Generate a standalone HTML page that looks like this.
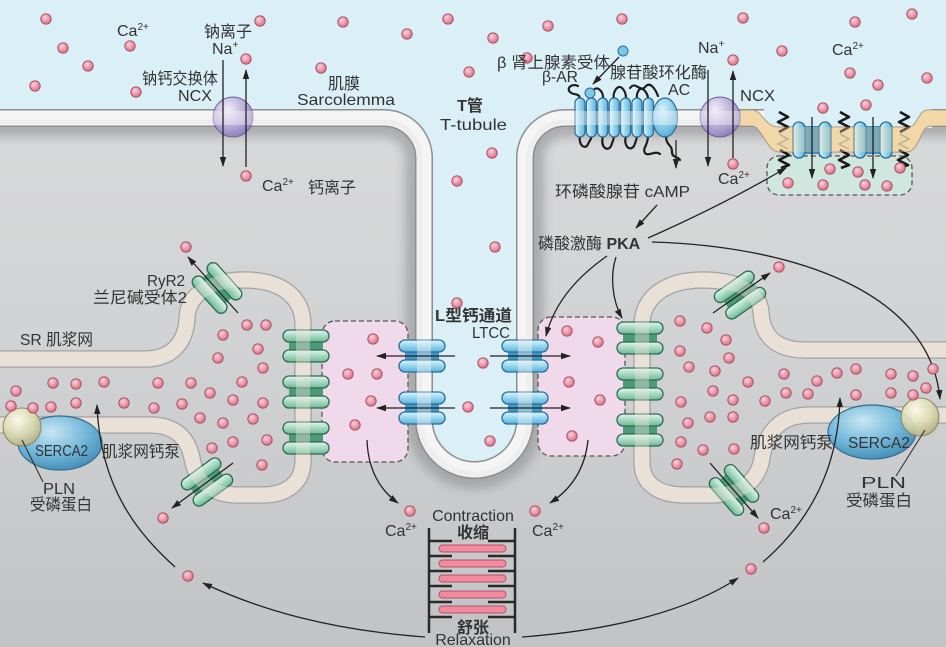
<!DOCTYPE html>
<html><head><meta charset="utf-8">
<style>
html,body{margin:0;padding:0;background:#d3d4d6;}
svg{display:block;}
text{font-family:"Liberation Sans","Noto Sans CJK SC",sans-serif;fill:#333;font-size:16px;}
.b{font-weight:bold;}
</style></head><body>
<svg width="946" height="647" viewBox="0 0 946 647" xmlns="http://www.w3.org/2000/svg">
<defs>
<linearGradient id="cell" x1="0" y1="0" x2="0" y2="1">
<stop offset="0" stop-color="#dcdcdd"/><stop offset="0.5" stop-color="#d2d3d4"/><stop offset="1" stop-color="#c2c3c5"/>
</linearGradient>
<radialGradient id="ca" cx="0.4" cy="0.35" r="0.7">
<stop offset="0" stop-color="#fbd3db"/><stop offset="0.55" stop-color="#ec95a6"/><stop offset="1" stop-color="#d26a80"/>
</radialGradient>
<linearGradient id="bp" x1="0" y1="0" x2="0" y2="1">
<stop offset="0" stop-color="#e0f5fd"/><stop offset="0.5" stop-color="#96d5ef"/><stop offset="1" stop-color="#5cb2db"/>
</linearGradient>
<linearGradient id="bpv" x1="0" y1="0" x2="1" y2="0">
<stop offset="0" stop-color="#e0f5fd"/><stop offset="0.5" stop-color="#96d5ef"/><stop offset="1" stop-color="#5cb2db"/>
</linearGradient>
<linearGradient id="gp" x1="0" y1="0" x2="0" y2="1">
<stop offset="0" stop-color="#e2f5ec"/><stop offset="0.5" stop-color="#a6d9c2"/><stop offset="1" stop-color="#6fb894"/>
</linearGradient>
<radialGradient id="ncx" cx="0.38" cy="0.3" r="0.75">
<stop offset="0" stop-color="#f1eef9"/><stop offset="0.45" stop-color="#c2b9e0"/><stop offset="1" stop-color="#8b7dbb"/>
</radialGradient>
<radialGradient id="serca" cx="0.4" cy="0.3" r="0.8">
<stop offset="0" stop-color="#c6e8f6"/><stop offset="0.5" stop-color="#6fb8dc"/><stop offset="1" stop-color="#2f7fac"/>
</radialGradient>
<radialGradient id="pln" cx="0.4" cy="0.3" r="0.8">
<stop offset="0" stop-color="#fbfbea"/><stop offset="0.5" stop-color="#dedcb4"/><stop offset="1" stop-color="#a9a67a"/>
</radialGradient>
<radialGradient id="ac" cx="0.4" cy="0.3" r="0.8">
<stop offset="0" stop-color="#d8f1fb"/><stop offset="0.5" stop-color="#8fd0ec"/><stop offset="1" stop-color="#4aa2cd"/>
</radialGradient>
<filter id="blur" x="-10%" y="-10%" width="120%" height="120%"><feGaussianBlur stdDeviation="5"/></filter>
<marker id="ah" viewBox="0 0 10 10" refX="9" refY="5" markerUnits="userSpaceOnUse" markerWidth="10" markerHeight="10" orient="auto">
<path d="M0,1.8 L10,5 L0,8.2 Z" fill="#222"/></marker>
<g id="d"><circle r="5.2" fill="url(#ca)" stroke="#a04c62" stroke-width="0.9"/></g>
<g id="bch">
<rect x="-17" y="-7" width="34" height="14" fill="#3f98c6"/>
<rect x="-23" y="-16" width="46" height="12" rx="6" fill="url(#bp)" stroke="#2a6c94" stroke-width="1.3"/>
<rect x="-23" y="4" width="46" height="12" rx="6" fill="url(#bp)" stroke="#2a6c94" stroke-width="1.3"/>
</g>
<g id="gch">
<rect x="-17" y="-7" width="34" height="14" fill="#4d9a7a"/>
<rect x="-23" y="-16" width="46" height="12" rx="6" fill="url(#gp)" stroke="#2c6a50" stroke-width="1.3"/>
<rect x="-23" y="4" width="46" height="12" rx="6" fill="url(#gp)" stroke="#2c6a50" stroke-width="1.3"/>
</g>
<g id="vch">
<rect x="-8" y="-14" width="16" height="28" fill="#3a8fbe"/>
<rect x="-19" y="-18" width="12" height="36" rx="6" fill="url(#bpv)" stroke="#2a6c94" stroke-width="1.3"/>
<rect x="7" y="-18" width="12" height="36" rx="6" fill="url(#bpv)" stroke="#2a6c94" stroke-width="1.3"/>
</g>
</defs>

<!-- cell background -->
<rect x="0" y="0" width="946" height="647" fill="url(#cell)"/>
<!-- membrane shadow -->
<path d="M -10,118 H 384 A 40 40 0 0 1 424 158 V 419.5 A 50.5 50.5 0 0 0 525 419.5 V 158 A 40 40 0 0 1 565 118 H 956" fill="none" stroke="#88898c" stroke-width="38" opacity="0.55" filter="url(#blur)"/>
<!-- extracellular -->
<path d="M -10,118 H 384 A 40 40 0 0 1 424 158 V 419.5 A 50.5 50.5 0 0 0 525 419.5 V 158 A 40 40 0 0 1 565 118 H 956 V -10 H -10 Z" fill="#dbeff7"/>
<!-- sarcolemma -->
<path d="M -10,118 H 384 A 40 40 0 0 1 424 158 V 419.5 A 50.5 50.5 0 0 0 525 419.5 V 158 A 40 40 0 0 1 565 118 H 956" fill="none" stroke="#8d8e90" stroke-width="18"/>
<path d="M -10,118 H 384 A 40 40 0 0 1 424 158 V 419.5 A 50.5 50.5 0 0 0 525 419.5 V 158 A 40 40 0 0 1 565 118 H 956" fill="none" stroke="#f4f4f4" stroke-width="15"/>
<path d="M -10,122 H 384 A 36 36 0 0 1 420 158 V 419.5 A 54.5 54.5 0 0 0 529 419.5 V 158 A 36 36 0 0 1 565 122 H 956" fill="none" stroke="#e2e2e3" stroke-width="5" opacity="0.7"/>

<!-- tan caveolar region -->
<rect x="764" y="108" width="168" height="20" fill="#dbeff7"/>
<path id="tan" d="M 740,110 L 752,110 C 762,110 765,127 778,127 L 908,127 C 918,127 918,110 928,110 L 950,110 L 950,126 L 930,126 C 920,126 920,152 906,152 L 780,152 C 766,152 762,126 752,126 L 740,126 Z" fill="#f1d7a7" stroke="#9a8e78" stroke-width="1"/>

<!-- SR left -->
<path d="M -10,425 L 150,425 C 175,425 188,438 192,458 C 196,482 212,495 238,495 L 262,495 C 288,495 303,482 303,460 L 303,325 C 303,296 280,280 245,280 C 212,280 188,293 187,318 C 186,342 172,359 145,359 L -10,359" fill="none" stroke="#a3a3a5" stroke-width="17.5"/>
<path d="M -10,425 L 150,425 C 175,425 188,438 192,458 C 196,482 212,495 238,495 L 262,495 C 288,495 303,482 303,460 L 303,325 C 303,296 280,280 245,280 C 212,280 188,293 187,318 C 186,342 172,359 145,359 L -10,359" fill="none" stroke="#e7ddd5" stroke-width="15"/>
<!-- SR right -->
<path d="M 956,350 L 805,350 C 775,350 762,335 761,312 C 759,290 735,280 702,280 C 668,280 642,296 642,325 L 642,462 C 642,485 660,495 685,495 L 712,495 C 740,495 758,482 762,458 C 766,432 780,415 810,415 L 956,415" fill="none" stroke="#a3a3a5" stroke-width="17.5"/>
<path d="M 956,350 L 805,350 C 775,350 762,335 761,312 C 759,290 735,280 702,280 C 668,280 642,296 642,325 L 642,462 C 642,485 660,495 685,495 L 712,495 C 740,495 758,482 762,458 C 766,432 780,415 810,415 L 956,415" fill="none" stroke="#e7ddd5" stroke-width="15"/>

<!-- pink boxes -->
<rect x="322" y="321" width="86" height="141" rx="13" fill="#efd9ea" stroke="#555" stroke-width="1.3" stroke-dasharray="5,3"/>
<rect x="538" y="317" width="87" height="139" rx="13" fill="#efd9ea" stroke="#555" stroke-width="1.3" stroke-dasharray="5,3"/>
<!-- teal box -->
<rect x="767" y="156" width="145" height="39" rx="12" fill="#cfe7de" stroke="#555" stroke-width="1.3" stroke-dasharray="5,3"/>

<!-- NCX -->
<circle cx="233" cy="117" r="20" fill="url(#ncx)" stroke="#6e609d" stroke-width="1"/>
<circle cx="720" cy="117" r="20" fill="url(#ncx)" stroke="#6e609d" stroke-width="1"/>

<!-- beta-AR -->
<g fill="none" stroke="#1e1e1e" stroke-width="2.2" stroke-linecap="round">
<path d="M 580,100 C 580,92 574,96 570,92 C 566,88 572,83 578,86"/>
<path d="M 591,100 C 590,90 596,86 600,90 C 604,94 603,98 603,100"/>
<path d="M 614,100 C 612,92 618,84 622,88 C 626,92 626,96 626,100"/>
<path d="M 637,100 C 636,92 640,86 644,90 C 648,94 648,97 648,100"/>
<path d="M 580,136 C 578,146 586,150 588,144 C 590,140 592,138 591,136"/>
<path d="M 603,136 C 600,148 608,152 611,146 C 613,141 614,138 614,136"/>
<path d="M 626,136 C 623,146 630,152 634,146 C 636,141 637,138 637,136"/>
<path d="M 648,136 C 648,146 642,148 645,153 C 648,157 655,150 660,154"/>
<path d="M 630,88 C 636,80 640,94 646,86 C 650,82 655,88 658,96"/>
<path d="M 666,136 C 666,146 672,144 672,152 C 672,158 678,156 680,160"/>
</g>
<g stroke="#2a6c94" stroke-width="1.2" fill="url(#bpv)">
<rect x="575" y="98" width="10" height="39" rx="5"/>
<rect x="586.4" y="98" width="10" height="39" rx="5"/>
<rect x="597.8" y="98" width="10" height="39" rx="5"/>
<rect x="609.2" y="98" width="10" height="39" rx="5"/>
<rect x="620.6" y="98" width="10" height="39" rx="5"/>
<rect x="632" y="98" width="10" height="39" rx="5"/>
<rect x="643.4" y="98" width="10" height="39" rx="5"/>
</g>
<ellipse cx="665" cy="117.5" rx="12.5" ry="19.5" fill="url(#ac)" stroke="#2a6c94" stroke-width="1.2"/>
<circle cx="623" cy="51" r="5" fill="#7cc6e6" stroke="#2a6c94" stroke-width="1"/>
<circle cx="590" cy="93" r="5" fill="#7cc6e6" stroke="#2a6c94" stroke-width="1"/>

<!-- caveola zigzags -->
<g fill="none" stroke="#1a1a1a" stroke-width="2.6" stroke-linejoin="round">
<polyline points="779,112 788,117 778,122 788,127 779,132"/>
<polyline points="780,150 789,155 779,160 789,165 781,168"/>
<polyline points="840,112 849,117 839,122 849,127 840,132"/>
<polyline points="840,150 849,155 839,160 849,165 841,168"/>
<polyline points="900,112 909,117 899,122 909,127 900,132"/>
<polyline points="899,150 908,155 898,160 908,165 900,168"/>
</g>
<g fill="none" stroke="#8a8a8a" stroke-width="1.5" opacity="0.8">
<polyline points="779,134 788,139 778,144 788,149"/>
<polyline points="840,134 849,139 839,144 849,149"/>
<polyline points="900,134 909,139 899,144 909,149"/>
</g>
<use href="#vch" transform="translate(812,140)"/>
<use href="#vch" transform="translate(873,140)"/>

<!-- LTCC -->
<use href="#bch" transform="translate(422,356)"/>
<use href="#bch" transform="translate(422,408)"/>
<use href="#bch" transform="translate(525,356)"/>
<use href="#bch" transform="translate(525,408)"/>
<!-- junction RyR -->
<use href="#gch" transform="translate(306,346)"/>
<use href="#gch" transform="translate(306,392)"/>
<use href="#gch" transform="translate(306,438)"/>
<use href="#gch" transform="translate(640,338)"/>
<use href="#gch" transform="translate(640,384)"/>
<use href="#gch" transform="translate(640,430)"/>
<!-- tilted RyR -->
<use href="#gch" transform="translate(217,288) rotate(48)"/>
<use href="#gch" transform="translate(740,295) rotate(-35)"/>
<use href="#gch" transform="translate(207,482) rotate(-36)"/>
<use href="#gch" transform="translate(734,490) rotate(49)"/>

<!-- semi-transparent membrane overlays over channels -->
<path d="M -10,118 H 384 A 40 40 0 0 1 424 158 V 419.5 A 50.5 50.5 0 0 0 525 419.5 V 158 A 40 40 0 0 1 565 118 H 740" fill="none" stroke="#f6f6f6" stroke-width="14" opacity="0.42"/>
<path d="M 740,110 L 752,110 C 762,110 765,127 778,127 L 908,127 C 918,127 918,110 928,110 L 950,110 L 950,126 L 930,126 C 920,126 920,152 906,152 L 780,152 C 766,152 762,126 752,126 L 740,126 Z" fill="#f3dbad" opacity="0.35"/>
<path d="M -10,425 L 150,425 C 175,425 188,438 192,458 C 196,482 212,495 238,495 L 262,495 C 288,495 303,482 303,460 L 303,325 C 303,296 280,280 245,280 C 212,280 188,293 187,318 C 186,342 172,359 145,359 L -10,359" fill="none" stroke="#ece4dd" stroke-width="14" opacity="0.42"/>
<path d="M 956,350 L 805,350 C 775,350 762,335 761,312 C 759,290 735,280 702,280 C 668,280 642,296 642,325 L 642,462 C 642,485 660,495 685,495 L 712,495 C 740,495 758,482 762,458 C 766,432 780,415 810,415 L 956,415" fill="none" stroke="#ece4dd" stroke-width="14" opacity="0.42"/>

<!-- SERCA -->
<ellipse cx="60" cy="443" rx="42" ry="27" fill="url(#serca)" stroke="#27668c" stroke-width="1.2" opacity="0.93"/>
<circle cx="22" cy="427" r="19" fill="url(#pln)" stroke="#8a8760" stroke-width="1.1" opacity="0.93"/>
<ellipse cx="872" cy="432" rx="44" ry="27" fill="url(#serca)" stroke="#27668c" stroke-width="1.2" opacity="0.93"/>
<circle cx="920" cy="417" r="19" fill="url(#pln)" stroke="#8a8760" stroke-width="1.1" opacity="0.93"/>

<!-- sarcomere -->
<g stroke="#2a2a2a" stroke-width="2.5" fill="none">
<line x1="429" y1="528" x2="429" y2="633"/>
<line x1="515" y1="528" x2="515" y2="633"/>
<path d="M429,541 H452 M429,556 H452 M429,571 H452 M429,586 H452 M429,602 H452 M429,617 H452 M488,541 H515 M488,556 H515 M488,571 H515 M488,586 H515 M488,602 H515 M488,617 H515"/>
</g>
<g fill="#f08a9d" stroke="#b8506a" stroke-width="1">
<rect x="439" y="545" width="67" height="7" rx="3.5"/>
<rect x="439" y="560" width="67" height="7" rx="3.5"/>
<rect x="439" y="575" width="67" height="7" rx="3.5"/>
<rect x="439" y="591" width="67" height="7" rx="3.5"/>
<rect x="439" y="606" width="67" height="7" rx="3.5"/>
</g>

<!-- arrows -->
<g fill="none" stroke="#222" stroke-width="1.3" marker-end="url(#ah)">
<line x1="223" y1="60" x2="223" y2="166"/>
<line x1="246" y1="167" x2="246" y2="70"/>
<line x1="708" y1="70" x2="708" y2="166"/>
<line x1="733" y1="158" x2="733" y2="71"/>
<line x1="812" y1="117" x2="812" y2="178"/>
<line x1="873" y1="117" x2="873" y2="178"/>
<line x1="619" y1="57" x2="593" y2="84"/>
<line x1="676" y1="140" x2="676" y2="168"/>
<line x1="657" y1="205" x2="636" y2="228"/>
<path d="M 648,238 C 700,215 745,192 786,168"/>
<path d="M 652,242 C 790,246 930,290 940,399"/>
<path d="M 607,256 C 580,275 555,300 546,336"/>
<path d="M 616,257 C 610,275 612,300 622,318"/>
<line x1="455" y1="356" x2="377" y2="356"/>
<line x1="455" y1="408" x2="377" y2="408"/>
<line x1="490" y1="356" x2="570" y2="356"/>
<line x1="490" y1="408" x2="570" y2="408"/>
<line x1="238" y1="313" x2="188" y2="257"/>
<line x1="713" y1="313" x2="770" y2="273"/>
<line x1="233" y1="463" x2="172" y2="508"/>
<line x1="710" y1="463" x2="758" y2="518"/>
<path d="M 367,440 C 368,470 380,490 398,503"/>
<path d="M 588,440 C 585,470 570,490 550,503"/>
<path d="M 425,637 C 330,630 260,610 203,583"/>
<path d="M 175,567 C 140,535 100,490 97,405"/>
<path d="M 522,637 C 615,630 690,610 738,578"/>
<path d="M 763,562 C 800,530 838,480 840,398"/>
</g>
<g stroke="#333" stroke-width="1.1">
<line x1="22" y1="440" x2="43" y2="482"/>
<line x1="925" y1="430" x2="896" y2="476"/>
</g>

<!-- Ca dots -->
<g>
<use href="#d" x="46" y="19"/><use href="#d" x="260" y="21"/><use href="#d" x="343" y="22"/><use href="#d" x="448" y="19"/>
<use href="#d" x="63" y="48"/><use href="#d" x="130" y="46"/><use href="#d" x="407" y="34"/><use href="#d" x="88" y="66"/>
<use href="#d" x="246" y="59"/><use href="#d" x="321" y="68"/><use href="#d" x="35" y="86"/><use href="#d" x="136" y="92"/>
<use href="#d" x="469" y="72"/><use href="#d" x="548" y="26"/><use href="#d" x="622" y="19"/><use href="#d" x="743" y="18"/>
<use href="#d" x="855" y="22"/><use href="#d" x="912" y="14"/><use href="#d" x="493" y="38"/><use href="#d" x="527" y="58"/>
<use href="#d" x="733" y="60"/><use href="#d" x="782" y="51"/><use href="#d" x="850" y="73"/><use href="#d" x="878" y="85"/>
<use href="#d" x="927" y="78"/><use href="#d" x="823" y="108"/><use href="#d" x="866" y="105"/>
<use href="#d" x="457" y="181"/><use href="#d" x="492" y="153"/><use href="#d" x="495" y="247"/><use href="#d" x="457" y="303"/>
<use href="#d" x="483" y="363"/><use href="#d" x="468" y="407"/><use href="#d" x="490" y="441"/>
<use href="#d" x="246" y="176"/><use href="#d" x="733" y="164"/>
<use href="#d" x="830" y="169"/><use href="#d" x="858" y="172"/><use href="#d" x="900" y="168"/><use href="#d" x="788" y="183"/>
<use href="#d" x="823" y="185"/><use href="#d" x="865" y="185"/><use href="#d" x="887" y="186"/>
<use href="#d" x="247" y="325"/><use href="#d" x="266" y="325"/><use href="#d" x="223" y="335"/><use href="#d" x="258" y="349"/>
<use href="#d" x="218" y="358"/><use href="#d" x="263" y="368"/><use href="#d" x="16" y="391"/><use href="#d" x="53" y="383"/>
<use href="#d" x="76" y="384"/><use href="#d" x="104" y="382"/><use href="#d" x="158" y="383"/><use href="#d" x="191" y="383"/>
<use href="#d" x="242" y="382"/><use href="#d" x="210" y="393"/><use href="#d" x="233" y="400"/><use href="#d" x="263" y="403"/>
<use href="#d" x="11" y="406"/><use href="#d" x="33" y="408"/><use href="#d" x="51" y="407"/><use href="#d" x="76" y="403"/>
<use href="#d" x="124" y="403"/><use href="#d" x="154" y="408"/><use href="#d" x="182" y="404"/><use href="#d" x="200" y="418"/>
<use href="#d" x="223" y="423"/><use href="#d" x="253" y="419"/><use href="#d" x="233" y="442"/><use href="#d" x="267" y="440"/>
<use href="#d" x="212" y="448"/><use href="#d" x="262" y="465"/>
<use href="#d" x="186" y="247"/><use href="#d" x="163" y="518"/><use href="#d" x="410" y="511"/><use href="#d" x="188" y="576"/>
<use href="#d" x="373" y="339"/><use href="#d" x="348" y="374"/><use href="#d" x="377" y="374"/><use href="#d" x="371" y="401"/><use href="#d" x="355" y="425"/>
<use href="#d" x="567" y="331"/><use href="#d" x="598" y="342"/><use href="#d" x="569" y="382"/><use href="#d" x="600" y="400"/><use href="#d" x="572" y="436"/>
<use href="#d" x="680" y="321"/><use href="#d" x="707" y="328"/><use href="#d" x="726" y="340"/><use href="#d" x="680" y="351"/>
<use href="#d" x="729" y="358"/><use href="#d" x="689" y="367"/><use href="#d" x="715" y="371"/><use href="#d" x="748" y="382"/>
<use href="#d" x="784" y="374"/><use href="#d" x="817" y="381"/><use href="#d" x="837" y="373"/><use href="#d" x="856" y="369"/>
<use href="#d" x="891" y="374"/><use href="#d" x="913" y="376"/><use href="#d" x="933" y="369"/><use href="#d" x="713" y="391"/>
<use href="#d" x="733" y="400"/><use href="#d" x="681" y="402"/><use href="#d" x="765" y="401"/><use href="#d" x="786" y="393"/>
<use href="#d" x="808" y="394"/><use href="#d" x="856" y="395"/><use href="#d" x="891" y="393"/><use href="#d" x="913" y="395"/>
<use href="#d" x="926" y="388"/><use href="#d" x="710" y="417"/><use href="#d" x="733" y="417"/><use href="#d" x="688" y="423"/>
<use href="#d" x="681" y="442"/><use href="#d" x="703" y="450"/><use href="#d" x="734" y="449"/><use href="#d" x="677" y="464"/>
<use href="#d" x="779" y="267"/><use href="#d" x="764" y="528"/><use href="#d" x="535" y="511"/><use href="#d" x="751" y="569"/>
</g>

<!-- labels -->
<text x="117" y="36">Ca<tspan dy="-6" font-size="10">2+</tspan></text>
<text x="204" y="37">钠离子</text>
<text x="212" y="54">Na<tspan dy="-6" font-size="10">+</tspan></text>
<text x="142" y="84" textLength="76" lengthAdjust="spacingAndGlyphs">钠钙交换体</text>
<text x="178" y="101" textLength="34" lengthAdjust="spacingAndGlyphs">NCX</text>
<text x="328" y="89">肌膜</text>
<text x="297" y="105" textLength="98" lengthAdjust="spacingAndGlyphs">Sarcolemma</text>
<text x="470" y="111" text-anchor="middle" class="b">T管</text>
<text x="440" y="130" textLength="67" lengthAdjust="spacingAndGlyphs">T-tubule</text>
<text x="262" y="191">Ca<tspan dy="-6" font-size="10">2+</tspan></text>
<text x="308" y="193">钙离子</text>

<text x="497" y="68" textLength="113" lengthAdjust="spacingAndGlyphs">β 肾上腺素受体</text>
<text x="542" y="82" textLength="36" lengthAdjust="spacingAndGlyphs">β-AR</text>
<text x="610" y="78" textLength="97" lengthAdjust="spacingAndGlyphs">腺苷酸环化酶</text>
<text x="668" y="95">AC</text>
<text x="698" y="53">Na<tspan dy="-6" font-size="10">+</tspan></text>
<text x="740" y="101" textLength="35" lengthAdjust="spacingAndGlyphs">NCX</text>
<text x="718" y="184">Ca<tspan dy="-6" font-size="10">2+</tspan></text>
<text x="832" y="55">Ca<tspan dy="-6" font-size="10">2+</tspan></text>
<text x="555" y="197" textLength="135" lengthAdjust="spacingAndGlyphs">环磷酸腺苷 cAMP</text>
<text x="538" y="249">磷酸激酶 <tspan class="b">PKA</tspan></text>

<text x="147" y="286" textLength="38" lengthAdjust="spacingAndGlyphs">RyR2</text>
<text x="93" y="303" textLength="94" lengthAdjust="spacingAndGlyphs">兰尼碱受体2</text>
<text x="20" y="345" textLength="73" lengthAdjust="spacingAndGlyphs">SR 肌浆网</text>
<text x="435" y="321" class="b" textLength="77" lengthAdjust="spacingAndGlyphs">L型钙通道</text>
<text x="472" y="338" textLength="38" lengthAdjust="spacingAndGlyphs">LTCC</text>

<text x="35" y="456" font-size="14" textLength="53" lengthAdjust="spacingAndGlyphs">SERCA2</text>
<text x="102" y="457" textLength="78" lengthAdjust="spacingAndGlyphs">肌浆网钙泵</text>
<text x="43" y="494" textLength="32" lengthAdjust="spacingAndGlyphs">PLN</text>
<text x="30" y="510" textLength="62" lengthAdjust="spacingAndGlyphs">受磷蛋白</text>
<text x="848" y="448" font-size="14" textLength="62" lengthAdjust="spacingAndGlyphs">SERCA2</text>
<text x="750" y="448" textLength="83" lengthAdjust="spacingAndGlyphs">肌浆网钙泵</text>
<text x="861" y="488" textLength="45" lengthAdjust="spacingAndGlyphs">PLN</text>
<text x="846" y="506" textLength="66" lengthAdjust="spacingAndGlyphs">受磷蛋白</text>

<text x="770" y="519">Ca<tspan dy="-6" font-size="10">2+</tspan></text>
<text x="385" y="536">Ca<tspan dy="-6" font-size="10">2+</tspan></text>
<text x="532" y="536">Ca<tspan dy="-6" font-size="10">2+</tspan></text>
<text x="473" y="521" text-anchor="middle">Contraction</text>
<text x="473" y="538" text-anchor="middle" class="b">收缩</text>
<text x="473" y="633" text-anchor="middle" class="b">舒张</text>
<text x="473" y="645" text-anchor="middle">Relaxation</text>
</svg>
</body></html>
